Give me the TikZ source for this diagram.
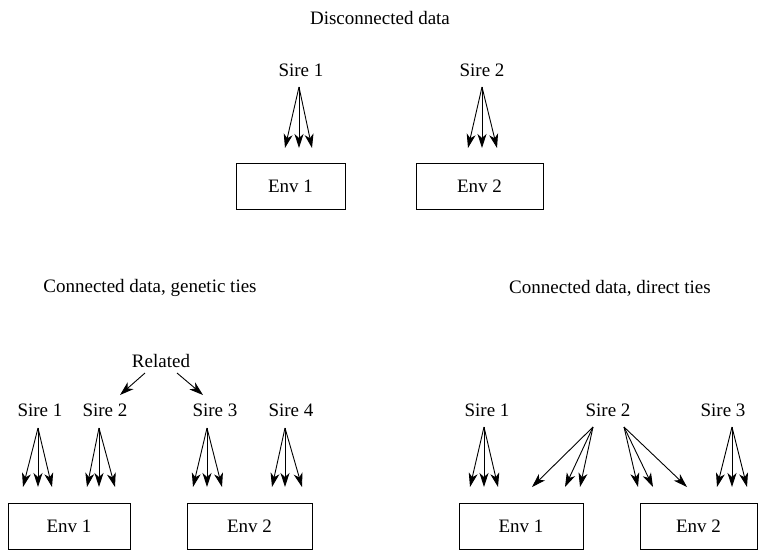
\documentclass[tikz,border=0pt]{standalone}
\usepackage{fontspec}
\setmainfont{Liberation Serif}
\usetikzlibrary{arrows.meta}
\tikzset{
  lbl/.style={inner sep=0pt, font=\fontsize{19}{22}\selectfont},
  envbox/.style={draw, line width=1pt, minimum width=#1, minimum height=46pt, inner sep=0pt, font=\fontsize{19}{22}\selectfont},
  arr/.style={line width=0.9pt, -{Stealth[length=14pt,width=9pt,inset=4pt]}}
}
\begin{document}
\begin{tikzpicture}[x=1pt,y=-1pt]
\useasboundingbox (0,0) rectangle (760,551);
% ---------- Disconnected data ----------
\node[lbl] (t1) at (380,18) {Disconnected data};
\node[lbl] (a1) at (301,70) {Sire 1};
\node[lbl] (a2) at (482,70) {Sire 2};
\node[envbox=109pt] (ae1) at (290.5,186) {Env 1};
\node[envbox=127pt] (ae2) at (479.5,186) {Env 2};
\coordinate (a1p) at (299,87);
\coordinate (a2p) at (482,87);
\foreach \x [count=\i] in {285,299,312} \coordinate (a1t\i) at (\x,148);
\foreach \x [count=\i] in {468,482,497} \coordinate (a2t\i) at (\x,148);
\foreach \i in {1,2,3} {\draw[arr] (a1p) -- (a1t\i); \draw[arr] (a2p) -- (a2t\i);}
% ---------- Connected data, genetic ties ----------
\node[lbl] (t2) at (150,288) {Connected data, genetic ties};
\node[lbl] (rel) at (161,361) {Related};
\node[lbl] (b1) at (40,410) {Sire 1};
\node[lbl] (b2) at (105,410) {Sire 2};
\node[lbl] (b3) at (215,410) {Sire 3};
\node[lbl] (b4) at (291,410) {Sire 4};
\coordinate (rl) at (145,373);
\coordinate (rr) at (177,373);
\coordinate (rlt) at (120,395);
\coordinate (rrt) at (203,395);
\draw[arr] (rl) -- (rlt);
\draw[arr] (rr) -- (rrt);
\node[envbox=122pt] (be1) at (69,526) {Env 1};
\node[envbox=125pt] (be2) at (249.5,526) {Env 2};
\coordinate (b1p) at (38,428);
\coordinate (b2p) at (99,428);
\coordinate (b3p) at (207,428);
\coordinate (b4p) at (285,428);
\foreach \x [count=\i] in {23,38,52} \coordinate (b1t\i) at (\x,487);
\foreach \x [count=\i] in {87,99,115} \coordinate (b2t\i) at (\x,487);
\foreach \x [count=\i] in {193,207,222} \coordinate (b3t\i) at (\x,487);
\foreach \x [count=\i] in {272,285,302} \coordinate (b4t\i) at (\x,487);
\foreach \i in {1,2,3} {
  \draw[arr] (b1p) -- (b1t\i);
  \draw[arr] (b2p) -- (b2t\i);
  \draw[arr] (b3p) -- (b3t\i);
  \draw[arr] (b4p) -- (b4t\i);
}
% ---------- Connected data, direct ties ----------
\node[lbl] (t3) at (610,288) {Connected data, direct ties};
\node[lbl] (c1) at (487,410) {Sire 1};
\node[lbl] (c2) at (608,410) {Sire 2};
\node[lbl] (c3) at (723,410) {Sire 3};
\node[envbox=124pt] (ce1) at (521,526) {Env 1};
\node[envbox=117pt] (ce2) at (698.5,526) {Env 2};
\coordinate (c1p) at (484,427);
\coordinate (c2l) at (593,427);
\coordinate (c2r) at (624,427);
\coordinate (c3p) at (732,427);
\foreach \x [count=\i] in {470,484,498} \coordinate (c1t\i) at (\x,487);
\foreach \x [count=\i] in {532,565,580} \coordinate (c2lt\i) at (\x,487);
\foreach \x [count=\i] in {638,653,687} \coordinate (c2rt\i) at (\x,487);
\foreach \x [count=\i] in {717,732,747} \coordinate (c3t\i) at (\x,487);
\foreach \i in {1,2,3} {
  \draw[arr] (c1p) -- (c1t\i);
  \draw[arr] (c2l) -- (c2lt\i);
  \draw[arr] (c2r) -- (c2rt\i);
  \draw[arr] (c3p) -- (c3t\i);
}
\end{tikzpicture}
\end{document}
